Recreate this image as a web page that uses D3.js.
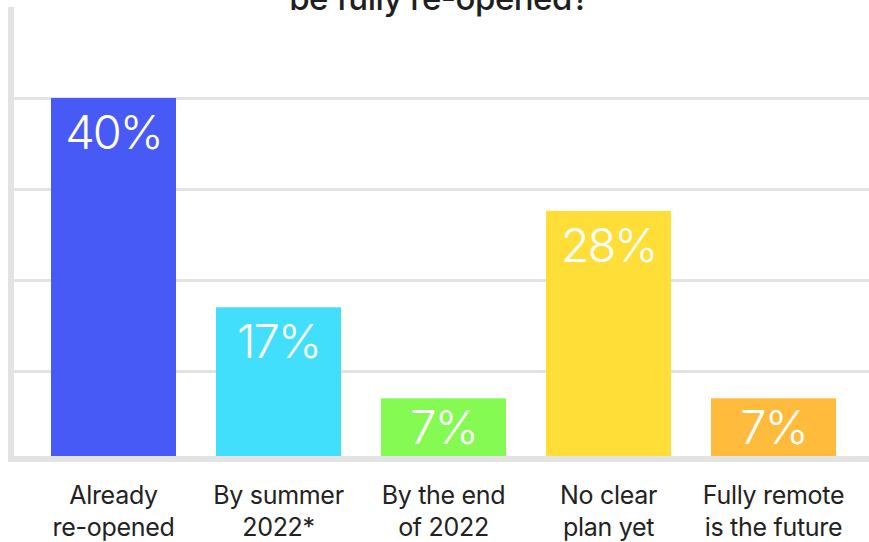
<!DOCTYPE html>
<html>
<head>
<meta charset="utf-8">
<script src="https://cdn.jsdelivr.net/npm/d3@7"></script>
<style>
  body { margin: 0; background: #fff; }
  svg { display: block; font-family: Inter, "Noto Sans", sans-serif; }
</style>
</head>
<body>
<div id="chart"></div>
<script>
// chart data
var categories = ["Already re-opened", "By summer 2022*", "By the end of 2022", "No clear plan yet", "Fully remote is the future"];
var categoryLines = [["Already", "re-opened"], ["By summer", "2022*"], ["By the end", "of 2022"], ["No clear", "plan yet"], ["Fully remote", "is the future"]];
var values = [40, 17, 7, 27.6, 7];
var barColors = ["#485af5", "#41dffb", "#84fa52", "#ffde38", "#ffbb3b"];
var gridTicks = [10, 20, 30, 40];
var titleText = "be fully re-opened?";

var svgWidth = 869;
var svgHeight = 542;

var svg = d3.select("#chart").append("svg")
    .attr("width", svgWidth)
    .attr("height", svgHeight);

// scales
var xScale = d3.scaleBand()
    .domain(categories)
    .range([31, 856])
    .paddingInner(40 / 165)
    .paddingOuter(20 / 165);

var yScale = d3.scaleLinear()
    .domain([0, 50])
    .range([462, 7]);

// title (only its second line is inside the frame)
svg.append("text")
    .attr("x", 439)
    .attr("y", 10)
    .attr("text-anchor", "middle")
    .attr("font-size", 33)
    .attr("font-weight", 500)
    .attr("letter-spacing", -0.5)
    .attr("fill", "#1f1f1f")
    .text(titleText);

// grid lines via a left axis with long ticks
var grid = svg.append("g")
    .attr("transform", "translate(14,0)")
    .call(d3.axisLeft(yScale).tickValues(gridTicks).tickSize(-(svgWidth - 14)).tickFormat(""));
grid.select(".domain").remove();
grid.selectAll("line").attr("stroke", "#e3e3e3").attr("stroke-width", 3);

// bars
svg.selectAll("rect.bar")
    .data(values)
    .enter()
    .append("rect")
    .attr("class", "bar")
    .attr("x", (d, i) => xScale(categories[i]))
    .attr("y", d => yScale(d))
    .attr("width", xScale.bandwidth())
    .attr("height", d => yScale(0) - yScale(d))
    .attr("fill", (d, i) => barColors[i]);

// axis lines
svg.append("line")
    .attr("x1", 11).attr("x2", 11)
    .attr("y1", yScale(50)).attr("y2", yScale(0))
    .attr("stroke", "#e3e3e3").attr("stroke-width", 6);
svg.append("line")
    .attr("x1", 8).attr("x2", svgWidth)
    .attr("y1", yScale(0) - 3).attr("y2", yScale(0) - 3)
    .attr("stroke", "#e3e3e3").attr("stroke-width", 6);

// value labels inside bars
var visibleBottom = yScale(0) - 6;
svg.selectAll("text.val")
    .data(values)
    .enter()
    .append("text")
    .attr("class", "val")
    .attr("x", (d, i) => xScale(categories[i]) + xScale.bandwidth() / 2)
    .attr("y", d => Math.min(yScale(d) + 51, (yScale(d) + visibleBottom) / 2 + 17))
    .attr("text-anchor", "middle")
    .attr("font-size", 47)
    .attr("font-weight", 300)
    .attr("letter-spacing", -2)
    .attr("fill", "#fff")
    .text(d => Math.round(d) + "%");

// category labels, two lines each
var catText = svg.selectAll("text.cat")
    .data(categoryLines)
    .enter()
    .append("text")
    .attr("class", "cat")
    .attr("text-anchor", "middle")
    .attr("font-size", 25)
    .attr("letter-spacing", -0.3)
    .attr("fill", "#222");
catText.selectAll("tspan")
    .data((d, i) => d.map(s => ({ s: s, i: i })))
    .enter()
    .append("tspan")
    .attr("x", d => xScale(categories[d.i]) + xScale.bandwidth() / 2)
    .attr("y", (d, j) => 504 + j * 32)
    .text(d => d.s);
</script>
</body>
</html>
